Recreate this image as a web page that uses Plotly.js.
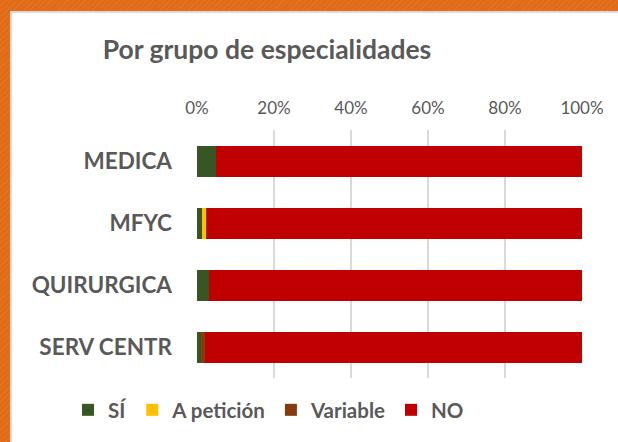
<!DOCTYPE html>
<html>
<head>
<meta charset="utf-8">
<script src="https://cdn.plot.ly/plotly-3.0.1.min.js"></script>
<style>
  html, body { margin: 0; padding: 0; width: 618px; height: 442px; overflow: hidden; }
  body {
    background: #E26B17;
    background-image: repeating-linear-gradient(135deg, rgba(255,255,255,0.06) 0px, rgba(255,255,255,0.06) 1px, rgba(0,0,0,0) 1px, rgba(0,0,0,0) 4px);
    position: relative;
  }
  #panel {
    position: absolute; left: 10px; top: 11px; width: 608px; height: 431px;
    background: #ffffff; border-left: 2px solid #DADADA; border-top: 2px solid #DADADA;
    box-sizing: border-box;
  }
  #chart { position: absolute; left: 0; top: 0; width: 618px; height: 442px; }
</style>
</head>
<body>
<div id="panel"></div>
<div id="chart"></div>
<script>
const categories = ['MEDICA', 'MFYC', 'QUIRURGICA', 'SERV CENTR'];
const seriesNames = ['SÍ', 'A petición', 'Variable', 'NO'];
const si = [5.0, 1.4, 3.0, 1.0];
const aPeticion = [0, 1.0, 0, 0];
const variable = [0, 0.3, 0, 1.1];
const no = [95.0, 97.3, 97.0, 97.9];
const tickVals = [0, 20, 40, 60, 80, 100];
const tickLabels = ['0%', '20%', '40%', '60%', '80%', '100%'];
const titleText = 'Por grupo de especialidades';

const colors = ['#375623', '#FFC000', '#843C0C', '#C00000'];
const values = [si, aPeticion, variable, no];
const FONT = 'Lato, "Open Sans", sans-serif';

const traces = values.map((v, i) => ({
  type: 'bar',
  orientation: 'h',
  name: seriesNames[i],
  y: categories,
  x: v,
  marker: { color: colors[i], line: { width: 0 } },
  hoverinfo: 'skip'
}));

const layout = {
  width: 618,
  height: 442,
  paper_bgcolor: 'rgba(0,0,0,0)',
  plot_bgcolor: 'rgba(0,0,0,0)',
  barmode: 'stack',
  bargap: 0.5,
  margin: { l: 196.5, r: 35.5, t: 130, b: 64, autoexpand: false },
  font: { family: FONT, color: '#595959' },
  title: {
    text: '<b>' + titleText + '</b>',
    font: { family: FONT, size: 26.5, color: '#595959' },
    x: 0.432, xanchor: 'center', xref: 'container',
    y: 0.887, yanchor: 'middle', yref: 'container'
  },
  xaxis: {
    side: 'top',
    range: [0, 100],
    tickvals: tickVals,
    ticktext: tickLabels,
    showgrid: true,
    gridcolor: '#D9D9D9',
    gridwidth: 1.5,
    zeroline: false,
    showline: false,
    ticks: '',
    ticklabelstandoff: 12,
    tickfont: { family: FONT, size: 17, color: '#595959' },
    fixedrange: true
  },
  yaxis: {
    type: 'category',
    autorange: 'reversed',
    showgrid: false,
    zeroline: false,
    showline: false,
    ticks: '',
    ticklabelstandoff: 24,
    tickfont: { family: FONT, size: 22.5, color: '#595959', weight: 'bold' },
    fixedrange: true
  },
  legend: {
    orientation: 'h',
    x: -0.335, xanchor: 'left',
    y: -0.129, yanchor: 'middle',
    traceorder: 'normal',
    font: { family: FONT, size: 20.5, color: '#595959', weight: 'bold' },
    itemwidth: 30,
    bgcolor: 'rgba(0,0,0,0)'
  },
  showlegend: true
};

Plotly.newPlot('chart', traces, layout, { displayModeBar: false, staticPlot: true });
</script>
</body>
</html>
